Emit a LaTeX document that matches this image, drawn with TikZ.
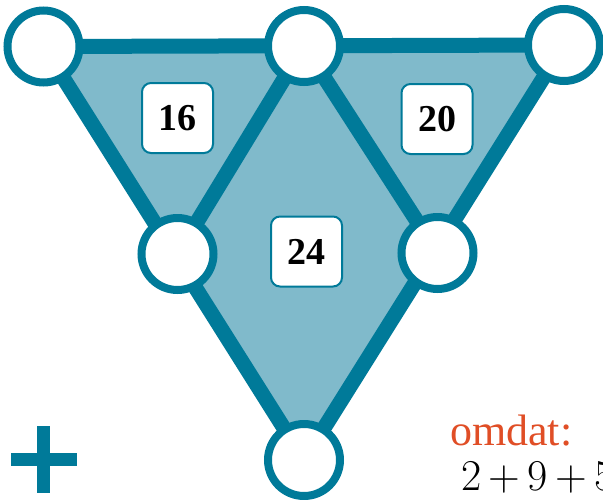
\documentclass[tikz,border=0pt]{standalone}
\usepackage{fontspec}
\setmainfont{Liberation Serif}
\newfontfamily\lmfont{Latin Modern Roman}
\usetikzlibrary{backgrounds}
\definecolor{tealdark}{RGB}{0,122,153}
\definecolor{tealfill}{RGB}{128,186,203}
\definecolor{orng}{RGB}{224,78,38}
\begin{document}
\begin{tikzpicture}[x=1pt,y=-1pt,
  edgeline/.style={draw=tealdark,line width=15pt},
  vert/.style={circle,draw=tealdark,line width=8pt,fill=white,minimum size=72pt,inner sep=0pt},
  numbox/.style={rounded corners=9pt,draw=tealdark,line width=2pt,fill=white,minimum width=71pt,minimum height=70pt,inner sep=0pt,font=\fontsize{38}{40}\selectfont\bfseries},
  plusbar/.style={fill=tealdark}]
\useasboundingbox (0,0) rectangle (603,499);
\node[vert] (TL) at (43.5,46.5) {};
\node[vert] (TM) at (304,46) {};
\node[vert] (TR) at (564,45) {};
\node[vert] (ML) at (177.5,254) {};
\node[vert] (MR) at (437.5,253) {};
\node[vert] (B) at (304,460) {};
\begin{scope}[on background layer]
  \fill[tealfill] (TL.center) -- (TR.center) -- (B.center) -- cycle;
  \draw[edgeline] (TL.center) -- (TR.center) -- (B.center) -- cycle;
  \draw[edgeline] (ML.center) -- (TM.center) -- (MR.center);
\end{scope}
\node[numbox] (n16) at (177.5,118) {16};
\node[numbox] (n20) at (437,119) {20};
\node[numbox] (n24) at (306.5,251.5) {24};
\fill[plusbar] (37,426) rectangle (50,493);
\fill[plusbar] (11,453) rectangle (77,466);
\node[anchor=base west,inner sep=0pt,text=orng,font=\fontsize{44}{48}\selectfont] (om) at (450,445) {omdat:};
\node[anchor=base west,inner sep=0pt,font=\lmfont\fontsize{44}{48}\selectfont] (sum) at (461,490) {2\hspace{0.17em}+\hspace{0.17em}9\hspace{0.17em}+\hspace{0.17em}5};
\end{tikzpicture}
\end{document}
